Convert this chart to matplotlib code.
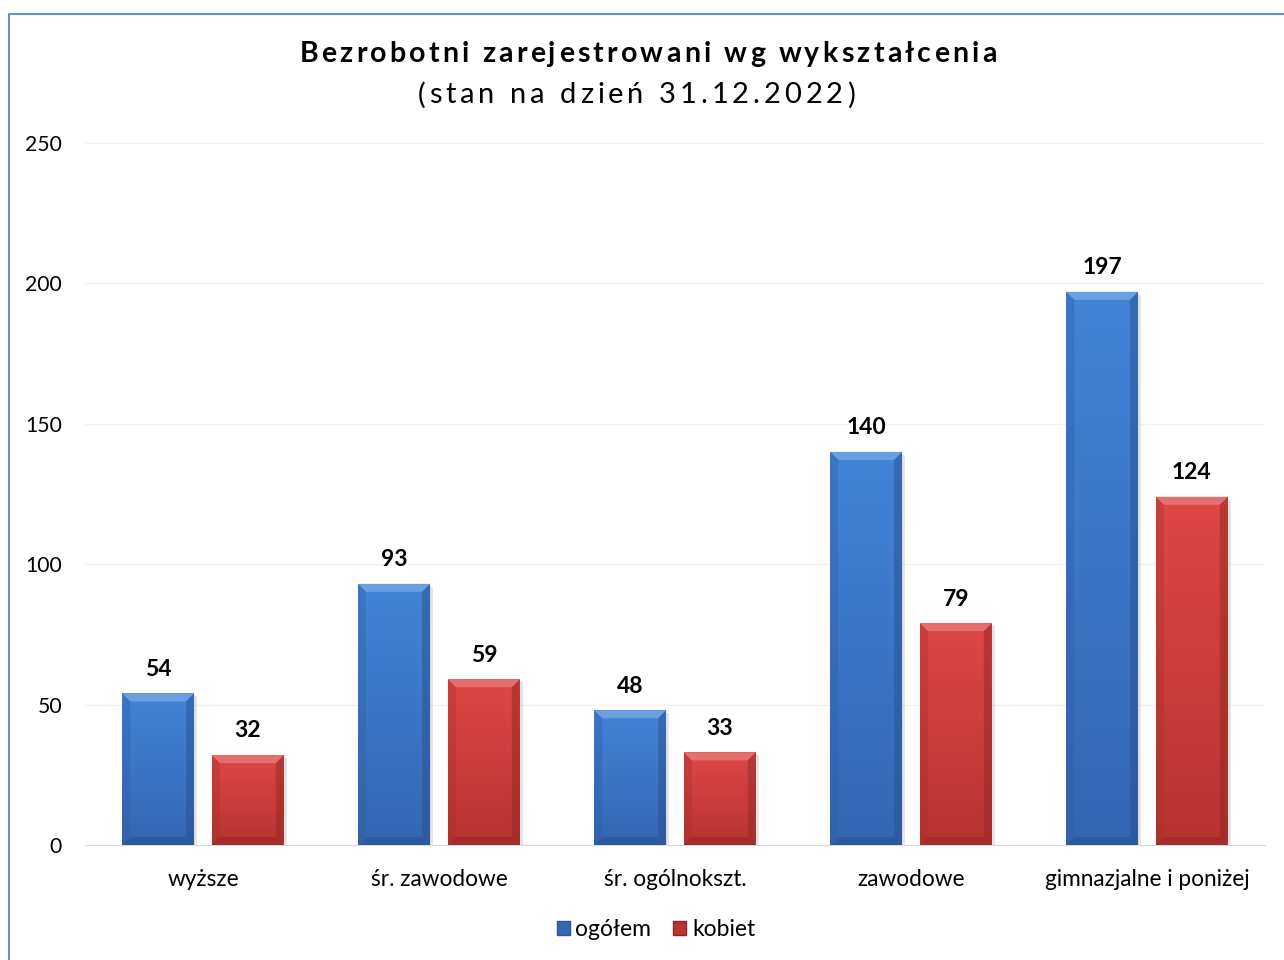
import numpy as np
import matplotlib
matplotlib.use("Agg")
import matplotlib.pyplot as plt
from matplotlib.patches import Polygon, Rectangle, Patch
from matplotlib.colors import to_rgb

plt.rcParams['font.family'] = ['Lato', 'DejaVu Sans']

categories = ['wyższe', 'śr. zawodowe', 'śr. ogólnokszt.', 'zawodowe', 'gimnazjalne i poniżej']
ogolem = [54, 93, 48, 140, 197]
kobiet = [32, 59, 33, 79, 124]
series_names = ['ogółem', 'kobiet']
title = 'Bezrobotni zarejestrowani wg wykształcenia'
subtitle = '(stan na dzień 31.12.2022)'

blue_top, blue_bot = '#4284d8', '#3466b2'
red_top, red_bot = '#de4745', '#b83331'


def shade(c, f):
    r = np.array(to_rgb(c))
    if f > 1:
        return tuple(r + (1 - r) * (f - 1))
    return tuple(r * f)


def bevel_bar(ax, x0, w, h, ctop, cbot, bpx=8):
    if h <= 0:
        return
    # pixel -> data sizes
    p0 = ax.transData.transform((0, 0))
    p1 = ax.transData.transform((1, 1))
    bx = bpx / (p1[0] - p0[0])
    by = bpx / (p1[1] - p0[1])
    x1 = x0 + w
    # shadow
    sx = 3 / (p1[0] - p0[0])
    sy = 3 / (p1[1] - p0[1])
    ax.add_patch(Rectangle((x0 + sx, -sy), w, h, facecolor='#000000', alpha=0.10,
                           edgecolor='none', zorder=2))
    rect = Rectangle((x0, 0), w, h, facecolor='none', edgecolor='none', zorder=3)
    ax.add_patch(rect)
    grad = np.linspace(0, 1, 100)[:, None, None]
    img = (1 - grad) * np.array(to_rgb(ctop)) + grad * np.array(to_rgb(cbot))
    im = ax.imshow(np.repeat(img, 2, axis=1), extent=(x0, x1, 0, h), aspect='auto',
                   zorder=3, interpolation='bilinear')
    im.set_clip_path(rect)
    by = min(by, h / 3)
    top = Polygon([(x0, h), (x1, h), (x1 - bx, h - by), (x0 + bx, h - by)],
                  facecolor=shade(ctop, 1.22), edgecolor='none', zorder=4)
    left = Polygon([(x0, 0), (x0, h), (x0 + bx, h - by), (x0 + bx, by)],
                   facecolor=shade(cbot, 0.9), edgecolor='none', zorder=4, alpha=0.35)
    right = Polygon([(x1, 0), (x1, h), (x1 - bx, h - by), (x1 - bx, by)],
                    facecolor=shade(cbot, 0.8), edgecolor='none', zorder=4, alpha=0.5)
    bot = Polygon([(x0, 0), (x1, 0), (x1 - bx, by), (x0 + bx, by)],
                  facecolor=shade(cbot, 0.85), edgecolor='none', zorder=4, alpha=0.7)
    for p in (top, left, right, bot):
        ax.add_patch(p)


def spaced_text(fig, s, xc, y, size, weight, spacing):
    r = fig.canvas.get_renderer()

    def width(t):
        if not t:
            return 0.0
        tt = fig.text(0, 0, t.replace(' ', '\u00a0'), fontsize=size, weight=weight)
        ww = tt.get_window_extent(r).width
        tt.remove()
        return ww

    total = width(s) + spacing * (len(s) - 1)
    x0 = xc * fig.bbox.width - total / 2
    for i, ch in enumerate(s):
        if ch == ' ':
            continue
        px = x0 + width(s[:i]) + spacing * i
        fig.text(px / fig.bbox.width, y, ch, fontsize=size, weight=weight,
                 va='center', ha='left', color='black')


fig = plt.figure(figsize=(12.84, 9.6), dpi=100)
ax = fig.add_axes([85 / 1284, 1 - 845 / 960, 1180 / 1284, 702 / 960])
ax.set_xlim(-0.5, len(categories) - 0.5)
ax.set_ylim(0, 250)

x = np.arange(len(categories))
bw = 0.305
off = 0.19
for i in range(len(categories)):
    bevel_bar(ax, x[i] - off - bw / 2, bw, ogolem[i], blue_top, blue_bot)
    bevel_bar(ax, x[i] + off - bw / 2, bw, kobiet[i], red_top, red_bot)
    ax.text(x[i] - off, ogolem[i] + 8.6, str(ogolem[i]), ha='center', va='center',
            fontsize=16.5, weight='bold')
    ax.text(x[i] + off, kobiet[i] + 8.6, str(kobiet[i]), ha='center', va='center',
            fontsize=16.5, weight='bold')

ax.set_yticks(np.arange(0, 251, 50))
ax.set_xticks(x)
ax.set_xticklabels(categories, fontsize=16.3)
ax.tick_params(axis='y', labelsize=15.2, length=0, pad=16.5)
ax.tick_params(axis='x', length=0, pad=17)
ax.grid(axis='y', color='#f2f2f2', linewidth=1)
ax.set_axisbelow(True)
for s in ('top', 'right', 'left'):
    ax.spines[s].set_visible(False)
ax.spines['bottom'].set_color('#d9d9d9')
ax.spines['bottom'].set_zorder(1)

# outer border
fig.patches.append(Rectangle((9 / 1284, -0.1), 1.2, 1.1 - 14 / 960, transform=fig.transFigure,
                             fill=False, edgecolor='#6a8fc7', linewidth=1.5))

spaced_text(fig, title, 648 / 1284, 1 - 54 / 960, 20.5, 'bold', 3.2)
spaced_text(fig, subtitle, 636 / 1284, 1 - 95 / 960, 21, 'normal', 3.9)

handles = [Patch(facecolor=blue_bot, edgecolor='#2b5797'), Patch(facecolor=red_bot, edgecolor='#8c2423')]
fig.legend(handles, series_names, loc='center', bbox_to_anchor=(656 / 1284, 1 - 930 / 960),
           ncol=2, frameon=False, fontsize=16.5, handlelength=0.57, handleheight=0.57,
           handletextpad=0.25, columnspacing=0.95)

fig.savefig('out.png', dpi=100)
